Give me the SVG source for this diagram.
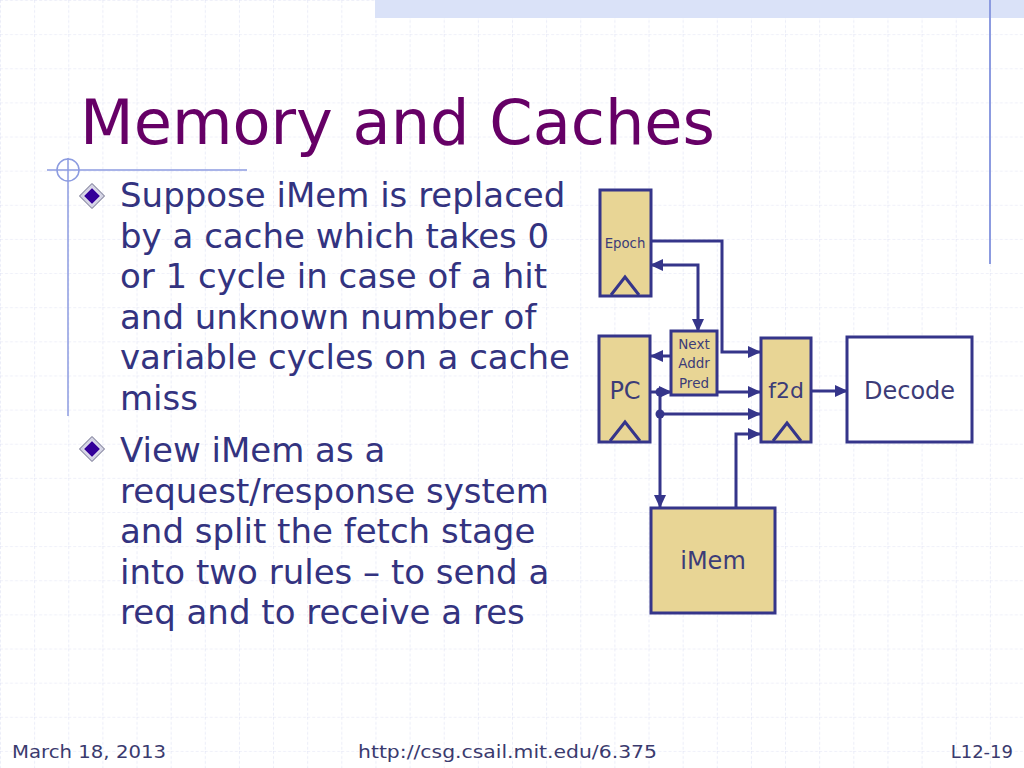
<svg xmlns="http://www.w3.org/2000/svg" width="1024" height="768" viewBox="0 0 1024 768">
<defs>
<pattern id="grid" x="0" y="0" width="34.133" height="34.133" patternUnits="userSpaceOnUse">
<path d="M0,0 V34.133 M0,0 H34.133" fill="none" stroke="#dfe2f4" stroke-width="1.2" stroke-dasharray="3 2"/>
</pattern>
<marker id="ah" markerWidth="13" markerHeight="12" refX="12" refY="6" orient="auto-start-reverse" markerUnits="userSpaceOnUse">
<path d="M0,0 L13,6 L0,12 z" fill="#35358a"/>
</marker>
<g id="bullet">
<polygon points="0,-12.5 12.5,0 0,12.5 -12.5,0" fill="#d4d4e4" stroke="#6a6a88" stroke-width="1"/>
<polygon points="0,-8.5 8.5,0 0,8.5 -8.5,0" fill="#330099" stroke="#ffffff" stroke-width="1"/>
</g>
</defs>
<style>
.reg{fill:#e8d595;stroke:#35358a;stroke-width:3}
.box{fill:#ffffff;stroke:#35358a;stroke-width:3}
.clk{fill:none;stroke:#35358a;stroke-width:3;stroke-linejoin:miter}
.wire{fill:none;stroke:#35358a;stroke-width:3}
.lbl{font-family:"DejaVu Sans",Verdana,sans-serif;fill:#3c3c78;text-anchor:middle}
.body{font-family:"DejaVu Sans",Verdana,sans-serif;font-size:34px;fill:#333380}
.foot{font-family:"DejaVu Sans",Tahoma,sans-serif;font-size:18px;fill:#3a3a6e}
.deco{stroke:#8c9be0;fill:none}
</style>
<rect x="0" y="0" width="1024" height="768" fill="#ffffff"/>
<rect x="0" y="0" width="1024" height="768" fill="url(#grid)"/>
<rect x="375" y="0" width="649" height="18" fill="#dae2f8"/>
<line class="deco" x1="990" y1="0" x2="990" y2="264" stroke-width="2"/>
<line class="deco" x1="47" y1="170" x2="247" y2="170" stroke-width="1.5"/>
<circle class="deco" cx="68" cy="170" r="11" stroke-width="1.5"/>
<line class="deco" x1="68" y1="158" x2="68" y2="416" stroke-width="1.5"/>

<text x="80" y="144" font-family="'DejaVu Sans',Verdana,sans-serif" font-size="62" fill="#660066" textLength="635" lengthAdjust="spacingAndGlyphs">Memory and Caches</text>

<use href="#bullet" x="92" y="196"/>
<use href="#bullet" x="92" y="449"/>
<text class="body">
<tspan x="120" y="207">Suppose iMem is replaced</tspan>
<tspan x="120" y="247.5">by a cache which takes 0</tspan>
<tspan x="120" y="288">or 1 cycle in case of a hit</tspan>
<tspan x="120" y="328.5">and unknown number of</tspan>
<tspan x="120" y="369">variable cycles on a cache</tspan>
<tspan x="120" y="409.5">miss</tspan>
<tspan x="120" y="462">View iMem as a</tspan>
<tspan x="120" y="502.5">request/response system</tspan>
<tspan x="120" y="543">and split the fetch stage</tspan>
<tspan x="120" y="583.5">into two rules – to send a</tspan>
<tspan x="120" y="624">req and to receive a res</tspan>
</text>

<g id="connectors">
<path class="wire" d="M651,241 H722 V352 H760" marker-end="url(#ah)"/>
<path class="wire" d="M651,265 H698 V331" marker-start="url(#ah)" marker-end="url(#ah)"/>
<path class="wire" d="M671,356 H651" marker-end="url(#ah)"/>
<path class="wire" d="M651,392 H671" marker-end="url(#ah)"/>
<path class="wire" d="M717,392 H760" marker-end="url(#ah)"/>
<path class="wire" d="M660,392 V507" marker-end="url(#ah)"/>
<path class="wire" d="M660,414 H760" marker-end="url(#ah)"/>
<path class="wire" d="M736,508 V434 H760" marker-end="url(#ah)"/>
<path class="wire" d="M811,391 H847" marker-end="url(#ah)"/>
<circle cx="660" cy="392" r="4.5" fill="#35358a"/>
<circle cx="660" cy="414" r="4.5" fill="#35358a"/>
</g>

<g id="epoch">
<rect class="reg" x="600" y="190" width="51" height="106"/>
<polyline class="clk" points="611,295 625,277 639,295"/>
<text class="lbl" x="625" y="248" font-size="13.3">Epoch</text>
</g>
<g id="pc">
<rect class="reg" x="599" y="336" width="51" height="106"/>
<polyline class="clk" points="610,441 625,422 640,441"/>
<text class="lbl" x="625" y="399" font-size="24">PC</text>
</g>
<g id="nap">
<rect class="reg" x="671" y="331" width="46" height="64"/>
<text class="lbl" x="694" y="349" font-size="13.5">Next</text>
<text class="lbl" x="694" y="368" font-size="13.5">Addr</text>
<text class="lbl" x="694" y="388" font-size="13.5">Pred</text>
</g>
<g id="f2d">
<rect class="reg" x="761" y="338" width="50" height="104"/>
<polyline class="clk" points="773,441 787,423 801,441"/>
<text class="lbl" x="786" y="398" font-size="22">f2d</text>
</g>
<g id="decode">
<rect class="box" x="847" y="337" width="125" height="105"/>
<text class="lbl" x="909.5" y="399" font-size="24">Decode</text>
</g>
<g id="imem">
<rect class="reg" x="651" y="508" width="124" height="105"/>
<text class="lbl" x="713" y="569" font-size="24">iMem</text>
</g>

<text class="foot" x="12" y="758" textLength="154" lengthAdjust="spacingAndGlyphs">March 18, 2013</text>
<text class="foot" x="358" y="758" textLength="299" lengthAdjust="spacingAndGlyphs">http://csg.csail.mit.edu/6.375</text>
<text class="foot" x="1013" y="758" text-anchor="end">L12-19</text>
</svg>
